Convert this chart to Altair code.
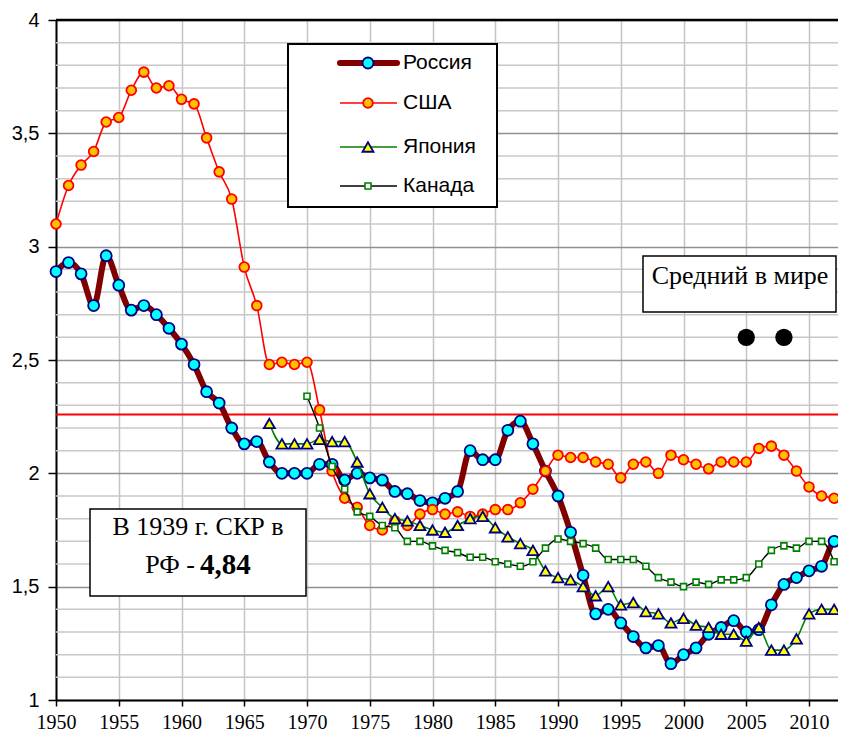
import altair as alt
import pandas as pd

# ---------------- data ----------------
years_ru = list(range(1950, 2014))
russia = [2.89, 2.93, 2.88, 2.74, 2.96, 2.83, 2.72, 2.74, 2.70, 2.64,
          2.57, 2.48, 2.36, 2.31, 2.20, 2.13, 2.14, 2.05, 2.00, 2.00,
          2.00, 2.04, 2.04, 1.97, 2.00, 1.98, 1.97, 1.92, 1.91, 1.88,
          1.87, 1.89, 1.92, 2.10, 2.06, 2.06, 2.19, 2.23, 2.13, 2.01,
          1.90, 1.74, 1.55, 1.38, 1.40, 1.34, 1.28, 1.23, 1.24, 1.16,
          1.20, 1.23, 1.29, 1.32, 1.35, 1.30, 1.31, 1.42, 1.51, 1.54,
          1.57, 1.59, 1.70, 1.71]

years_us = list(range(1950, 2014))
usa = [3.10, 3.27, 3.36, 3.42, 3.55, 3.57, 3.69, 3.77, 3.70, 3.71,
       3.65, 3.63, 3.48, 3.33, 3.21, 2.91, 2.74, 2.48, 2.49, 2.48,
       2.49, 2.28, 2.01, 1.89, 1.85, 1.77, 1.75, 1.79, 1.77, 1.82,
       1.84, 1.82, 1.83, 1.81, 1.82, 1.84, 1.84, 1.87, 1.93, 2.01,
       2.08, 2.07, 2.07, 2.05, 2.04, 1.98, 2.04, 2.05, 2.00, 2.08,
       2.06, 2.04, 2.02, 2.05, 2.05, 2.05, 2.11, 2.12, 2.08, 2.01,
       1.94, 1.90, 1.89, 1.86]

years_jp = list(range(1967, 2013))
japan = [2.22, 2.13, 2.13, 2.13, 2.15, 2.14, 2.14, 2.05, 1.91, 1.85,
         1.80, 1.79, 1.77, 1.75, 1.74, 1.77, 1.80, 1.81, 1.76, 1.72,
         1.69, 1.66, 1.57, 1.54, 1.53, 1.50, 1.46, 1.50, 1.42, 1.43,
         1.39, 1.38, 1.34, 1.36, 1.33, 1.32, 1.29, 1.29, 1.26, 1.32,
         1.22, 1.22, 1.27, 1.38, 1.40, 1.40]

years_ca = list(range(1970, 2013))
canada = [2.34, 2.20, 2.03, 1.93, 1.83, 1.81, 1.77, 1.76, 1.70, 1.70,
          1.68, 1.66, 1.65, 1.63, 1.63, 1.61, 1.60, 1.59, 1.61, 1.67,
          1.71, 1.70, 1.69, 1.67, 1.62, 1.62, 1.62, 1.59, 1.54, 1.52,
          1.50, 1.52, 1.51, 1.53, 1.53, 1.54, 1.60, 1.66, 1.68, 1.67,
          1.70, 1.70, 1.61]

world_years = [2005, 2008]
world_vals = [2.6, 2.6]
ref_level = [2.26]

legend_labels = ["Россия", "США", "Япония", "Канада"]
world_label = "Средний в мире"
note_line1 = "В 1939 г. СКР в"
note_line2a = "РФ -"
note_line2b = "4,84"

x_ticks = list(range(1950, 2011, 5))
y_major = [1, 1.5, 2, 2.5, 3, 3.5, 4]
y_minor = [round(1 + 0.1 * i, 1) for i in range(31) if i % 5 != 0]

# ---------------- scales / axes ----------------
W, H = 782, 680
xs = alt.Scale(domain=[1950, 2012.31], nice=False, zero=False)
ys = alt.Scale(domain=[1, 4], nice=False, zero=False)

x_axis = alt.Axis(values=x_ticks, format="d", grid=True, gridColor="#c4c4c4",
                  gridWidth=1.5, domainColor="black", domainWidth=2,
                  tickColor="black", tickSize=6, tickWidth=1.5,
                  labelFont="Liberation Serif", labelFontSize=20,
                  labelColor="black", labelPadding=6, title=None,
                  labelFlush=False, labelOverlap=False)
y_axis = alt.Axis(values=y_major, format=".1~f",
                  labelExpr="replace(datum.label, '.', ',')",
                  grid=True, gridColor="#909090", gridWidth=1.5,
                  domainColor="black", domainWidth=2, tickColor="black",
                  tickSize=8, tickWidth=1.5, labelFont="Liberation Sans",
                  labelFontSize=20, labelColor="black", labelPadding=9,
                  title=None)


def X(field):
    return alt.X(field, type="quantitative", scale=xs, axis=x_axis)


def Y(field):
    return alt.Y(field, type="quantitative", scale=ys, axis=y_axis)


df_ru = pd.DataFrame({"year": years_ru, "v": russia})
df_us = pd.DataFrame({"year": years_us, "v": usa})
df_jp = pd.DataFrame({"year": years_jp, "v": japan})
df_ca = pd.DataFrame({"year": years_ca, "v": canada})
df_w = pd.DataFrame({"year": world_years, "v": world_vals})
df_minor = pd.DataFrame({"v": y_minor})
df_ref = pd.DataFrame({"v": ref_level})
one = pd.DataFrame({"a": [0]})

minor = alt.Chart(df_minor).mark_rule(color="#c8c8c8", strokeWidth=1.5).encode(y=Y("v"))
ref = alt.Chart(df_ref).mark_rule(color="#ff0000", strokeWidth=2).encode(y=Y("v"))
top_line = alt.Chart(one).mark_rule(color="black", strokeWidth=2.5).encode(
    x=alt.value(0), x2=alt.value(W), y=alt.value(0))

RU_LINE = dict(color="#800000", strokeWidth=6)
RU_PT = dict(shape="circle", filled=True, fill="#00ffff", stroke="#000080",
             strokeWidth=1.8, size=120, opacity=1)
US_LINE = dict(color="#ff0000", strokeWidth=1.6)
US_PT = dict(shape="circle", filled=True, fill="#ffc000", stroke="#ff0000",
             strokeWidth=1.8, size=95, opacity=1)
JP_LINE = dict(color="#008000", strokeWidth=1.6)
JP_PT = dict(shape="triangle-up", filled=True, fill="#ffff00", stroke="#000080",
             strokeWidth=1.8, size=120, opacity=1)
CA_LINE = dict(color="#000000", strokeWidth=1.4)
CA_PT = dict(shape="square", filled=True, fill="#ffffff", stroke="#008000",
             strokeWidth=1.6, size=36, opacity=1)


def series(df, line_style, pt_style):
    ln = alt.Chart(df).mark_line(interpolate="monotone", clip=True, **line_style).encode(
        x=X("year"), y=Y("v"))
    pt = alt.Chart(df).mark_point(**pt_style).encode(x=X("year"), y=Y("v"))
    return [ln, pt]


layers = [minor, ref]
layers += series(df_ru, RU_LINE, RU_PT)
layers += series(df_us, US_LINE, US_PT)
layers += series(df_jp, JP_LINE, JP_PT)
layers += series(df_ca, CA_LINE, CA_PT)
layers.append(top_line)

# world average dots
layers.append(alt.Chart(df_w).mark_circle(color="black", size=300, opacity=1).encode(
    x=X("year"), y=Y("v")))

# "Средний в мире" box
layers.append(alt.Chart(one).mark_rect(fill="white", stroke="black", strokeWidth=1.5).encode(
    x=alt.value(587), x2=alt.value(780), y=alt.value(236), y2=alt.value(292)))
layers.append(alt.Chart(one).mark_text(font="Liberation Serif", fontSize=26, color="black",
                                       align="center", baseline="middle").encode(
    x=alt.value(684), y=alt.value(256), text=alt.value(world_label)))

# 1939 note box
layers.append(alt.Chart(one).mark_rect(fill="white", stroke="black", strokeWidth=1.5).encode(
    x=alt.value(34), x2=alt.value(250), y=alt.value(489), y2=alt.value(576)))
layers.append(alt.Chart(one).mark_text(font="Liberation Serif", fontSize=26, color="black",
                                       align="center", baseline="middle").encode(
    x=alt.value(142), y=alt.value(507), text=alt.value(note_line1)))
layers.append(alt.Chart(one).mark_text(font="Liberation Serif", fontSize=26, color="black",
                                       align="right", baseline="middle").encode(
    x=alt.value(139), y=alt.value(545), text=alt.value(note_line2a)))
layers.append(alt.Chart(one).mark_text(font="Liberation Serif", fontSize=29, fontWeight="bold",
                                       color="black", align="left", baseline="middle").encode(
    x=alt.value(144), y=alt.value(545), text=alt.value(note_line2b)))

# legend
layers.append(alt.Chart(one).mark_rect(fill="white", stroke="black", strokeWidth=2).encode(
    x=alt.value(232), x2=alt.value(441), y=alt.value(24), y2=alt.value(187)))
leg_y = [43, 83, 127, 166]
styles = [(RU_LINE, RU_PT), (US_LINE, US_PT), (JP_LINE, JP_PT), (CA_LINE, CA_PT)]
for lab, yy, (ls, ps) in zip(legend_labels, leg_y, styles):
    layers.append(alt.Chart(one).mark_rule(color=ls["color"], strokeWidth=ls["strokeWidth"],
                                           strokeCap="round" if ls is RU_LINE else "butt").encode(
        x=alt.value(284), x2=alt.value(341), y=alt.value(yy)))
    layers.append(alt.Chart(one).mark_point(**ps).encode(x=alt.value(312), y=alt.value(yy)))
    layers.append(alt.Chart(one).mark_text(font="Liberation Sans", fontSize=21, color="black",
                                           align="left", baseline="middle").encode(
        x=alt.value(347), y=alt.value(yy), text=alt.value(lab)))

chart = alt.layer(*layers).properties(
    width=W, height=H,
    autosize=alt.AutoSizeParams(type="none"),
    padding={"left": 48, "top": 12, "right": 0, "bottom": 40},
    background="white",
).configure_view(strokeWidth=0)

chart.save("out.html", embed_options={"renderer": "svg", "actions": False})
